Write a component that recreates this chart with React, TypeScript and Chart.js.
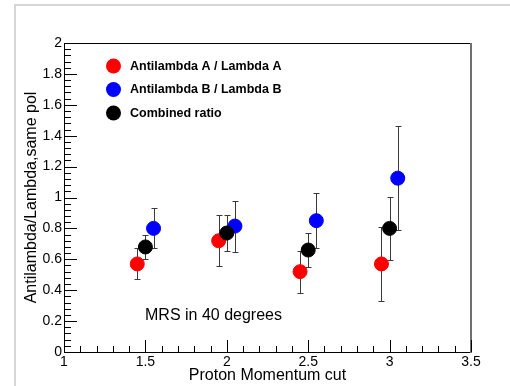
import React, { useEffect, useRef } from "react";
import { Chart, registerables } from "chart.js";

Chart.register(...registerables);

const seriesLabels = ["Antilambda A / Lambda A", "Antilambda B / Lambda B", "Combined ratio"];
const seriesColors = ["#ff0000", "#0000ff", "#000000"];

const redX = [1.45, 1.95, 2.45, 2.95];
const redY = [0.57, 0.72, 0.52, 0.57];
const redErr = [0.1, 0.165, 0.135, 0.24];

const blueX = [1.55, 2.05, 2.55, 3.05];
const blueY = [0.8, 0.815, 0.85, 1.125];
const blueErr = [0.13, 0.165, 0.18, 0.335];

const blackX = [1.5, 2.0, 2.5, 3.0];
const blackY = [0.68, 0.77, 0.66, 0.8];
const blackErr = [0.08, 0.115, 0.11, 0.205];

const xTicks = [1, 1.5, 2, 2.5, 3, 3.5];
const yTicks = [0, 0.2, 0.4, 0.6, 0.8, 1, 1.2, 1.4, 1.6, 1.8, 2];

const xTitle = "Proton Momentum cut";
const yTitle = "Antilambda/Lambda,same pol";
const noteText = "MRS in 40 degrees";

const FONT = "'Liberation Sans', Arial, Helvetica, sans-serif";

function pts(xs: number[], ys: number[]) {
  return xs.map((x, i) => ({ x, y: ys[i] }));
}

const fmt = (v: any) => String(Math.round(Number(v) * 100) / 100);

const decorPlugin = {
  id: "decor",
  beforeDraw(chart: any) {
    const { ctx, width, height } = chart;
    ctx.save();
    ctx.fillStyle = "#ffffff";
    ctx.fillRect(0, 0, width, height);
    ctx.fillStyle = "#d6d6d6";
    ctx.fillRect(14, 4, 2, height - 4);
    ctx.fillRect(14, 4, width - 14, 2);
    ctx.restore();
  },
  beforeDatasetsDraw(chart: any) {
    const { ctx } = chart;
    const xs = chart.scales.x;
    const ys = chart.scales.y;
    ctx.save();
    ctx.strokeStyle = "#3a3a3a";
    ctx.lineWidth = 1;
    chart.data.datasets.forEach((ds: any) => {
      ds.data.forEach((p: any, i: number) => {
        const e = ds.errors[i];
        const px = Math.round(xs.getPixelForValue(p.x)) + 0.5;
        const y1 = Math.round(ys.getPixelForValue(p.y + e)) + 0.5;
        const y0 = Math.round(ys.getPixelForValue(p.y - e)) + 0.5;
        ctx.beginPath();
        ctx.moveTo(px, y0);
        ctx.lineTo(px, y1);
        ctx.moveTo(px - 3, y0);
        ctx.lineTo(px + 3, y0);
        ctx.moveTo(px - 3, y1);
        ctx.lineTo(px + 3, y1);
        ctx.stroke();
      });
    });
    ctx.restore();
  },
  afterDraw(chart: any) {
    const { ctx, chartArea } = chart;
    const { left, right, top, bottom } = chartArea;
    const xs = chart.scales.x;
    const ys = chart.scales.y;
    ctx.save();
    // frame
    ctx.strokeStyle = "#000000";
    ctx.lineWidth = 1;
    ctx.beginPath();
    ctx.moveTo(left + 0.5, bottom + 0.5);
    ctx.lineTo(left + 0.5, top + 0.5);
    ctx.lineTo(right, top + 0.5);
    ctx.moveTo(left, bottom + 0.5);
    ctx.lineTo(right, bottom + 0.5);
    ctx.stroke();
    ctx.strokeStyle = "#707070";
    ctx.lineWidth = 2;
    ctx.beginPath();
    ctx.moveTo(right + 0, top);
    ctx.lineTo(right + 0, bottom + 1);
    ctx.stroke();
    // ticks
    ctx.strokeStyle = "#000000";
    ctx.lineWidth = 1;
    ctx.beginPath();
    for (let i = 0; i <= 50; i++) {
      const v = i * 0.04;
      const py = Math.round(ys.getPixelForValue(v)) + 0.5;
      const len = i % 5 === 0 ? 13 : 7;
      ctx.moveTo(left, py);
      ctx.lineTo(left + len, py);
    }
    for (let i = 0; i <= 25; i++) {
      const v = 1 + i * 0.1;
      const px = Math.round(xs.getPixelForValue(v)) + 0.5;
      const len = i % 5 === 0 ? 12 : 6;
      ctx.moveTo(px, bottom);
      ctx.lineTo(px, bottom - len);
    }
    ctx.stroke();
    // legend
    const lx = 113.5;
    const ly = [66, 89.5, 113];
    ctx.font = `bold 12.5px ${FONT}`;
    ctx.textBaseline = "middle";
    ctx.textAlign = "left";
    chart.data.datasets.forEach((ds: any, i: number) => {
      ctx.fillStyle = ds.backgroundColor;
      ctx.beginPath();
      ctx.arc(lx, ly[i], 7.5, 0, Math.PI * 2);
      ctx.fill();
      ctx.fillStyle = "#000000";
      ctx.fillText(ds.label, 130, ly[i] + 0.5);
    });
    // note
    ctx.font = `16px ${FONT}`;
    ctx.textBaseline = "alphabetic";
    ctx.fillStyle = "#000000";
    ctx.fillText(noteText, 145, 320);
    ctx.restore();
  },
};

export default function App() {
  const ref = useRef<HTMLCanvasElement | null>(null);
  useEffect(() => {
    document.body.style.margin = "0";
    const canvas = ref.current;
    if (!canvas) return;
    const chart = new Chart(canvas, {
      type: "scatter",
      data: {
        datasets: [
          { label: seriesLabels[0], data: pts(redX, redY), errors: redErr, backgroundColor: seriesColors[0], borderColor: seriesColors[0], order: 3 } as any,
          { label: seriesLabels[1], data: pts(blueX, blueY), errors: blueErr, backgroundColor: seriesColors[1], borderColor: seriesColors[1], order: 2 } as any,
          { label: seriesLabels[2], data: pts(blackX, blackY), errors: blackErr, backgroundColor: seriesColors[2], borderColor: seriesColors[2], order: 1 } as any,
        ].map((d: any) => ({ ...d, pointRadius: 7, pointBorderWidth: 1, pointHoverRadius: 7, showLine: false })),
      },
      options: {
        animation: false,
        responsive: false,
        devicePixelRatio: 1,
        events: [],
        layout: { padding: { left: 0, top: 43, right: 39, bottom: 0 } },
        plugins: { legend: { display: false }, tooltip: { enabled: false } },
        scales: {
          x: {
            type: "linear",
            min: 1,
            max: 3.5,
            afterBuildTicks: (s: any) => { s.ticks = xTicks.map((v) => ({ value: v })); },
            afterFit: (s: any) => { s.height = 34; },
            ticks: { color: "#000", font: { family: FONT, size: 14 }, padding: 2, maxRotation: 0, callback: fmt },
            grid: { display: false, drawTicks: false },
            border: { display: false },
            title: { display: true, text: xTitle, color: "#000", font: { family: FONT, size: 16 }, padding: { top: 0, bottom: 0.5 } },
          },
          y: {
            type: "linear",
            min: 0,
            max: 2,
            afterBuildTicks: (s: any) => { s.ticks = yTicks.map((v) => ({ value: v })); },
            afterFit: (s: any) => { s.width = 64; },
            ticks: { color: "#000", font: { family: FONT, size: 14 }, padding: 2, callback: fmt },
            grid: { display: false, drawTicks: false },
            border: { display: false },
            title: { display: true, text: yTitle, color: "#000", font: { family: FONT, size: 16 }, padding: { top: 21.5, bottom: 0 } },
          },
        },
      },
      plugins: [decorPlugin],
    } as any);
    return () => chart.destroy();
  }, []);
  return <canvas ref={ref} width={510} height={386} style={{ display: "block" }} />;
}
